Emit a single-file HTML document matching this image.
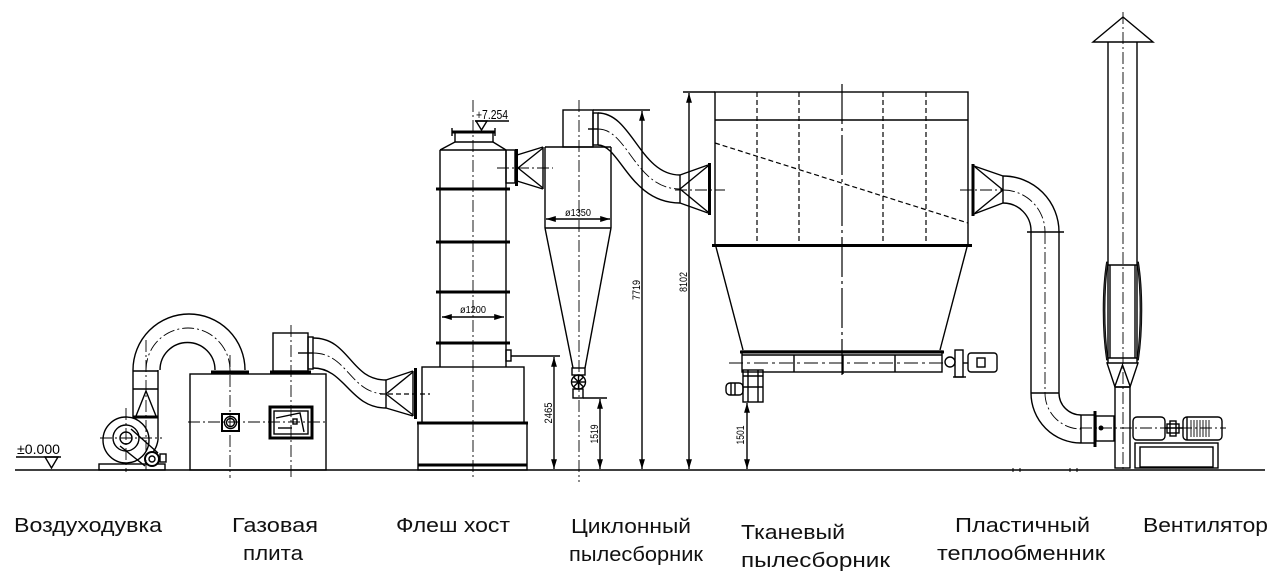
<!DOCTYPE html>
<html>
<head>
<meta charset="utf-8">
<style>
  html,body{margin:0;padding:0;background:#fff;}
  svg{display:block;}
  .l{stroke:#000;stroke-width:1.4;fill:none;}
  .t{stroke:#000;stroke-width:3;fill:none;}
  .c{stroke:#000;stroke-width:0.9;fill:none;stroke-dasharray:12 3 2 3;}
  .d{stroke:#000;stroke-width:1.2;fill:none;stroke-dasharray:5 3;}
  .lab{font-family:"Liberation Sans","Noto Sans CJK SC",sans-serif;font-size:20px;fill:#111;}
  .dim{font-family:"Liberation Sans",sans-serif;font-size:11px;fill:#000;}
</style>
</head>
<body>
<svg width="1281" height="582" viewBox="0 0 1281 582" xmlns="http://www.w3.org/2000/svg">
<defs>
  <marker id="ar" viewBox="0 0 10 10" refX="10" refY="5" markerWidth="7" markerHeight="7" orient="auto-start-reverse">
    <path d="M0,2 L10,5 L0,8 z" fill="#000"/>
  </marker>
</defs>
<rect width="1281" height="582" fill="#fff"/>

<!-- ground -->
<line x1="15" y1="470" x2="1265" y2="470" stroke="#000" stroke-width="1.6"/>

<!-- datum -->
<text x="17" y="454" class="dim" style="font-size:14px" textLength="43" lengthAdjust="spacingAndGlyphs">±0.000</text>
<line class="l" x1="16" y1="457" x2="61" y2="457"/>
<polygon class="l" points="45,457 58,457 51.5,468"/>

<!-- ===== BLOWER ===== -->
<rect class="l" x="99" y="464" width="66" height="6"/>
<circle class="l" cx="126" cy="440" r="23"/>
<line class="l" x1="158" y1="418" x2="158" y2="440"/>
<path class="l" d="M158,440 Q156,452 148,456"/>
<circle class="l" cx="126" cy="438" r="13"/>
<circle class="l" cx="126" cy="438" r="6"/>
<line class="l" x1="131" y1="429" x2="158" y2="453"/>
<line class="l" x1="120" y1="446" x2="145" y2="466"/>
<circle cx="152" cy="459" r="7" fill="#fff" stroke="#000" stroke-width="2"/>
<circle class="l" cx="152" cy="459" r="3"/>
<rect class="l" x="160" y="454" width="6" height="8"/>
<line class="c" x1="100" y1="438" x2="162" y2="438"/>
<line class="c" x1="126" y1="408" x2="126" y2="472"/>
<!-- outlet duct -->
<line class="l" x1="133" y1="370" x2="133" y2="418"/>
<line class="l" x1="158" y1="370" x2="158" y2="418"/>
<line class="l" x1="133" y1="371" x2="158" y2="371"/>
<line class="l" x1="133" y1="389" x2="158" y2="389"/>
<line class="t" x1="133" y1="417" x2="158" y2="417"/>
<polyline class="l" points="136,416 146,391 156,416"/>
<line class="c" x1="146" y1="340" x2="146" y2="470"/>
<!-- bend -->
<path class="l" d="M133,370 A56,56 0 0 1 245,370"/>
<path class="l" d="M160,370 A27.5,27.5 0 0 1 215,370"/>
<path class="c" d="M146,370 A42,42 0 0 1 230,370"/>
<line class="t" x1="211" y1="372" x2="249" y2="372"/>

<!-- ===== GAS STOVE ===== -->
<rect class="l" x="190" y="374" width="136" height="96"/>
<rect class="l" x="273" y="333" width="35" height="38"/>
<line class="t" x1="270" y1="372" x2="311" y2="372"/>
<line class="c" x1="230" y1="355" x2="230" y2="478"/>
<line class="c" x1="291" y1="325" x2="291" y2="478"/>
<line class="c" x1="188" y1="422" x2="328" y2="422"/>
<rect x="222" y="414" width="17" height="17" fill="none" stroke="#000" stroke-width="2"/>
<circle class="l" cx="230.5" cy="422.5" r="6"/>
<circle class="l" cx="230.5" cy="422.5" r="4"/>
<rect x="270" y="407" width="42" height="31" fill="none" stroke="#000" stroke-width="3"/>
<rect class="l" x="274" y="411" width="34" height="23" stroke-width="1"/>
<polyline class="l" points="276,418 300,413 304,432" stroke-width="1"/>
<rect class="l" x="293" y="419" width="4" height="5" stroke-width="1"/>
<line class="l" x1="278" y1="428" x2="292" y2="428" stroke-width="1"/>
<!-- S duct to tower -->
<rect class="l" x="308" y="337" width="5" height="32"/>
<path class="l" d="M313,338 C350,338 350,380 386,380"/>
<path class="l" d="M313,368 C345,368 350,408 386,408"/>
<line class="l" x1="298" y1="353" x2="313" y2="353"/>
<path class="c" d="M313,353 C348,353 350,394 386,394"/>
<!-- tower inlet cone -->
<line class="l" x1="386" y1="380" x2="386" y2="408"/>
<line class="l" x1="386" y1="380" x2="413" y2="371"/>
<line class="l" x1="386" y1="408" x2="413" y2="416"/>
<line class="l" x1="413" y1="371" x2="413" y2="416"/>
<line class="l" x1="386" y1="394" x2="413" y2="372"/>
<line class="l" x1="386" y1="394" x2="413" y2="415"/>
<line class="t" x1="415.5" y1="368" x2="415.5" y2="419"/>
<line class="d" x1="380" y1="394" x2="430" y2="394"/>

<!-- ===== FLASH TOWER ===== -->
<rect class="l" x="422" y="367" width="102" height="56"/>
<rect class="l" x="418" y="423" width="109" height="47"/>
<line class="t" x1="417" y1="423" x2="528" y2="423"/>
<line class="t" x1="418" y1="465" x2="527" y2="465"/>
<line class="l" x1="440" y1="150" x2="440" y2="367"/>
<line class="l" x1="506" y1="150" x2="506" y2="367"/>
<line class="l" x1="440" y1="150" x2="506" y2="150"/>
<line class="l" x1="440" y1="150" x2="455" y2="142"/>
<line class="l" x1="506" y1="150" x2="493" y2="142"/>
<line class="l" x1="455" y1="132" x2="455" y2="142"/>
<line class="l" x1="493" y1="132" x2="493" y2="142"/>
<line class="l" x1="455" y1="142" x2="493" y2="142"/>
<line class="t" x1="452" y1="132" x2="495" y2="132"/>
<line class="l" x1="452" y1="128" x2="452" y2="136"/>
<line class="l" x1="495" y1="128" x2="495" y2="136"/>
<line class="t" x1="436" y1="189" x2="510" y2="189"/>
<line class="t" x1="436" y1="242" x2="510" y2="242"/>
<line class="t" x1="436" y1="292" x2="510" y2="292"/>
<line class="t" x1="436" y1="343" x2="510" y2="343"/>
<line class="c" x1="473" y1="100" x2="473" y2="480"/>
<line class="l" x1="442" y1="317" x2="504" y2="317" stroke-width="1" marker-start="url(#ar)" marker-end="url(#ar)"/>
<text x="473" y="313" class="dim" style="font-size:10px" text-anchor="middle" textLength="26" lengthAdjust="spacingAndGlyphs">ø1200</text>
<rect class="l" x="506" y="350" width="5" height="11"/>
<line class="l" x1="511" y1="356" x2="560" y2="356" stroke-width="1"/>
<line class="l" x1="554" y1="357" x2="554" y2="469" stroke-width="1" marker-start="url(#ar)" marker-end="url(#ar)"/>
<text class="dim" transform="translate(552,413) rotate(-90)" text-anchor="middle" textLength="21" lengthAdjust="spacingAndGlyphs">2465</text>
<!-- elevation -->
<text x="476" y="119" class="dim" style="font-size:13px" textLength="32" lengthAdjust="spacingAndGlyphs">+7.254</text>
<line class="l" x1="475" y1="121" x2="509" y2="121" stroke-width="1"/>
<polygon class="l" points="476,121 487,121 481.5,130" stroke-width="1"/>

<!-- tower -> cyclone inlet -->
<rect class="l" x="506" y="150" width="9" height="33"/>
<line class="t" x1="516.5" y1="149" x2="516.5" y2="186"/>
<line class="l" x1="517" y1="155" x2="543" y2="147"/>
<line class="l" x1="517" y1="181" x2="543" y2="189"/>
<line class="l" x1="543" y1="147" x2="543" y2="189"/>
<line class="l" x1="518" y1="168" x2="543" y2="148"/>
<line class="l" x1="518" y1="168" x2="543" y2="188"/>
<line class="c" x1="497" y1="168" x2="553" y2="168"/>

<!-- ===== CYCLONE ===== -->
<rect class="l" x="563" y="110" width="30" height="37"/>
<line class="l" x1="593" y1="110" x2="650" y2="110" stroke-width="1"/>
<line class="l" x1="545" y1="147" x2="611" y2="147"/>
<line class="l" x1="545" y1="147" x2="545" y2="228"/>
<line class="l" x1="611" y1="147" x2="611" y2="228"/>
<line class="l" x1="545" y1="228" x2="611" y2="228"/>
<line class="l" x1="546" y1="219" x2="610" y2="219" stroke-width="1" marker-start="url(#ar)" marker-end="url(#ar)"/>
<text x="578" y="216" class="dim" style="font-size:10px" text-anchor="middle" textLength="26" lengthAdjust="spacingAndGlyphs">ø1350</text>
<line class="l" x1="545" y1="228" x2="573" y2="368"/>
<line class="l" x1="611" y1="228" x2="585" y2="368"/>
<rect class="l" x="572" y="368" width="13" height="7"/>
<circle class="l" cx="578.5" cy="382" r="7" stroke-width="1.8"/>
<line class="l" x1="571.5" y1="382" x2="585.5" y2="382" stroke-width="1"/>
<line class="l" x1="578.5" y1="375" x2="578.5" y2="389" stroke-width="1"/>
<line class="l" x1="573.5" y1="377" x2="583.5" y2="387" stroke-width="1"/>
<line class="l" x1="583.5" y1="377" x2="573.5" y2="387" stroke-width="1"/>
<rect class="l" x="573" y="389" width="10" height="9"/>
<line class="l" x1="583" y1="398" x2="607" y2="398" stroke-width="1"/>
<line class="l" x1="600" y1="399" x2="600" y2="469" stroke-width="1" marker-start="url(#ar)" marker-end="url(#ar)"/>
<text class="dim" transform="translate(598,434) rotate(-90)" text-anchor="middle" textLength="19" lengthAdjust="spacingAndGlyphs">1519</text>
<line class="c" x1="579" y1="100" x2="579" y2="482"/>
<!-- S duct cyclone -> bag filter -->
<rect class="l" x="593" y="113" width="5" height="32"/>
<path class="l" d="M598,113 C632,113 640,175 680,175"/>
<path class="l" d="M598,145 C620,145 630,203 680,203"/>
<line class="l" x1="588" y1="129" x2="598" y2="129"/>
<path class="c" d="M598,129 C628,129 635,189 680,189"/>
<line class="l" x1="680" y1="175" x2="680" y2="203"/>
<line class="l" x1="680" y1="175" x2="708" y2="165"/>
<line class="l" x1="680" y1="203" x2="708" y2="213"/>
<line class="l" x1="680" y1="189" x2="708" y2="166"/>
<line class="l" x1="680" y1="189" x2="708" y2="212"/>
<line class="t" x1="709.5" y1="163" x2="709.5" y2="215"/>
<line class="c" x1="675" y1="190" x2="725" y2="190"/>

<!-- dims 7719 / 8102 -->
<line class="l" x1="642" y1="111" x2="642" y2="469" stroke-width="1" marker-start="url(#ar)" marker-end="url(#ar)"/>
<text class="dim" transform="translate(640,290) rotate(-90)" text-anchor="middle" textLength="20" lengthAdjust="spacingAndGlyphs">7719</text>
<line class="l" x1="683" y1="92" x2="715" y2="92" stroke-width="1"/>
<line class="l" x1="689" y1="93" x2="689" y2="469" stroke-width="1" marker-start="url(#ar)" marker-end="url(#ar)"/>
<text class="dim" transform="translate(687,282) rotate(-90)" text-anchor="middle" textLength="20" lengthAdjust="spacingAndGlyphs">8102</text>

<!-- ===== BAG FILTER ===== -->
<rect class="l" x="715" y="92" width="253" height="153"/>
<line class="l" x1="715" y1="120" x2="968" y2="120"/>
<line class="d" x1="757" y1="92" x2="757" y2="245"/>
<line class="d" x1="799" y1="92" x2="799" y2="245"/>
<line class="d" x1="883" y1="92" x2="883" y2="245"/>
<line class="d" x1="926" y1="92" x2="926" y2="245"/>
<line x1="842" y1="84" x2="842" y2="375" stroke="#000" stroke-width="1.2" stroke-dasharray="40 4 3 4"/>
<line class="d" x1="715" y1="143" x2="968" y2="223" stroke-dasharray="4 3"/>
<line class="t" x1="712" y1="245.5" x2="972" y2="245.5" stroke-width="2.2"/>
<line class="l" x1="716" y1="247" x2="743" y2="350"/>
<line class="l" x1="967" y1="247" x2="940" y2="350"/>
<!-- conveyor -->
<rect class="l" x="742" y="351" width="200" height="21"/>
<line class="t" x1="740" y1="352" x2="944" y2="352" stroke-width="2"/>
<line class="l" x1="742" y1="355" x2="942" y2="355"/>
<line class="l" x1="794" y1="355" x2="794" y2="372"/>
<line class="l" x1="843" y1="355" x2="843" y2="374"/>
<line class="l" x1="895" y1="355" x2="895" y2="372"/>
<line x1="729" y1="363" x2="946" y2="363" stroke="#000" stroke-width="1.1" stroke-dasharray="14 4 3 4"/>
<!-- right drive -->
<circle class="l" cx="950" cy="362" r="5"/>
<rect class="l" x="955" y="350" width="8" height="27"/>
<line class="l" x1="963" y1="363" x2="968" y2="363"/>
<rect class="l" x="968" y="353" width="29" height="19" rx="3"/>
<rect class="l" x="977" y="358" width="8" height="9"/>
<line class="l" x1="953" y1="377" x2="966" y2="377"/>
<!-- left discharge -->
<rect class="l" x="743" y="370" width="20" height="32"/>
<line class="l" x1="748" y1="370" x2="748" y2="402"/>
<line class="l" x1="758" y1="370" x2="758" y2="402"/>
<line class="l" x1="743" y1="376" x2="763" y2="376"/>
<line class="l" x1="743" y1="387" x2="763" y2="387"/>
<rect class="l" x="726" y="383" width="17" height="12" rx="4"/>
<line class="l" x1="731" y1="383" x2="731" y2="395"/>
<line class="l" x1="735" y1="383" x2="735" y2="395"/>
<line class="l" x1="747" y1="403" x2="747" y2="469" stroke-width="1" marker-start="url(#ar)" marker-end="url(#ar)"/>
<text class="dim" transform="translate(744,435) rotate(-90)" text-anchor="middle" textLength="19" lengthAdjust="spacingAndGlyphs">1501</text>
<!-- bag filter outlet cone -->
<line class="t" x1="973" y1="164" x2="973" y2="216"/>
<line class="l" x1="974" y1="166" x2="1003" y2="176"/>
<line class="l" x1="974" y1="214" x2="1003" y2="203"/>
<line class="l" x1="1003" y1="176" x2="1003" y2="203"/>
<line class="l" x1="1003" y1="190" x2="975" y2="167"/>
<line class="l" x1="1003" y1="190" x2="975" y2="213"/>
<line class="c" x1="960" y1="190" x2="1003" y2="190"/>

<!-- ===== HEAT EXCHANGER DUCT ===== -->
<path class="l" d="M1003,176 A56,56 0 0 1 1059,232"/>
<path class="l" d="M1003,203 A28,28 0 0 1 1031,232"/>
<path class="c" d="M1003,190 A42,42 0 0 1 1045,232"/>
<line class="l" x1="1027" y1="232" x2="1064" y2="232"/>
<line class="l" x1="1031" y1="232" x2="1031" y2="393"/>
<line class="l" x1="1059" y1="232" x2="1059" y2="393"/>
<line class="c" x1="1045" y1="232" x2="1045" y2="393"/>
<line class="l" x1="1031" y1="393" x2="1059" y2="393"/>
<path class="l" d="M1031,393 A50,50 0 0 0 1081,443"/>
<path class="l" d="M1059,393 A22,22 0 0 0 1081,415"/>
<path class="c" d="M1045,393 A36,36 0 0 0 1081,429"/>
<line class="l" x1="1081" y1="415" x2="1081" y2="443"/>
<line class="l" x1="1081" y1="415" x2="1094" y2="415"/>
<line class="l" x1="1081" y1="443" x2="1094" y2="443"/>
<line class="t" x1="1095" y1="411" x2="1095" y2="447"/>
<rect class="l" x="1096" y="416" width="18" height="25"/>
<circle cx="1101" cy="428" r="2.5" fill="#000"/>

<!-- ===== FAN + STACK ===== -->
<rect class="l" x="1115" y="387" width="15" height="81"/>
<polygon class="l" points="1107,363 1138,363 1130,387 1115,387"/>
<polyline class="l" points="1115,386 1122.5,365 1130,386"/>
<line class="l" x1="1108" y1="42" x2="1108" y2="363"/>
<line class="l" x1="1137" y1="42" x2="1137" y2="363"/>
<line class="l" x1="1106" y1="265" x2="1139" y2="265"/>
<line class="l" x1="1106" y1="358" x2="1139" y2="358"/>
<path d="M1108,262 C1104,290 1104,330 1108,360 L1106.5,360 C1102,330 1102,290 1106.5,262 Z" fill="#333" stroke="#000" stroke-width="0.8"/>
<path d="M1137,262 C1141,290 1141,330 1137,360 L1138.5,360 C1143,330 1143,290 1138.5,262 Z" fill="#333" stroke="#000" stroke-width="0.8"/>
<line class="l" x1="1110" y1="265" x2="1110" y2="358" stroke-width="0.8"/>
<line class="l" x1="1135" y1="265" x2="1135" y2="358" stroke-width="0.8"/>
<polygon class="l" points="1093,42 1153,42 1123,17"/>
<line class="c" x1="1123" y1="12" x2="1123" y2="470"/>
<!-- motor -->
<rect class="l" x="1133" y="417" width="32" height="23" rx="4"/>
<line class="l" x1="1165" y1="428" x2="1183" y2="428"/>
<rect class="l" x="1170" y="421" width="6" height="15" fill="#444"/>
<rect class="l" x="1167" y="424" width="12" height="9"/>
<rect class="l" x="1183" y="417" width="39" height="23" rx="4"/>
<line class="l" x1="1187" y1="417" x2="1187" y2="440"/>
<g stroke="#000" stroke-width="0.9">
<line x1="1191" y1="420" x2="1191" y2="437"/>
<line x1="1194" y1="420" x2="1194" y2="437"/>
<line x1="1197" y1="420" x2="1197" y2="437"/>
<line x1="1200" y1="420" x2="1200" y2="437"/>
<line x1="1203" y1="420" x2="1203" y2="437"/>
<line x1="1206" y1="420" x2="1206" y2="437"/>
<line x1="1209" y1="420" x2="1209" y2="437"/>
</g>
<rect class="l" x="1135" y="443" width="83" height="25"/>
<rect class="l" x="1140" y="447" width="73" height="20"/>
<line class="c" x1="1080" y1="428" x2="1226" y2="428"/>
<!-- ground ticks -->
<g stroke="#000" stroke-width="1">
<line x1="1013" y1="468" x2="1013" y2="472"/><line x1="1020" y1="468" x2="1020" y2="472"/>
<line x1="1070" y1="468" x2="1070" y2="472"/><line x1="1077" y1="468" x2="1077" y2="472"/>
</g>

<!-- ===== LABELS ===== -->
<text class="lab" x="14" y="532" textLength="148" lengthAdjust="spacingAndGlyphs">Воздуходувка</text>
<text class="lab" x="232" y="532" textLength="86" lengthAdjust="spacingAndGlyphs">Газовая</text>
<text class="lab" x="243" y="560" textLength="60" lengthAdjust="spacingAndGlyphs">плита</text>
<text class="lab" x="396" y="532" textLength="114" lengthAdjust="spacingAndGlyphs">Флеш хост</text>
<text class="lab" x="571" y="533" textLength="120" lengthAdjust="spacingAndGlyphs">Циклонный</text>
<text class="lab" x="569" y="561" textLength="134" lengthAdjust="spacingAndGlyphs">пылесборник</text>
<text class="lab" x="741" y="539" textLength="104" lengthAdjust="spacingAndGlyphs">Тканевый</text>
<text class="lab" x="741" y="567" textLength="149" lengthAdjust="spacingAndGlyphs">пылесборник</text>
<text class="lab" x="955" y="532" textLength="135" lengthAdjust="spacingAndGlyphs">Пластичный</text>
<text class="lab" x="937" y="560" textLength="168" lengthAdjust="spacingAndGlyphs">теплообменник</text>
<text class="lab" x="1143" y="532" textLength="125" lengthAdjust="spacingAndGlyphs">Вентилятор</text>
</svg>
</body>
</html>
